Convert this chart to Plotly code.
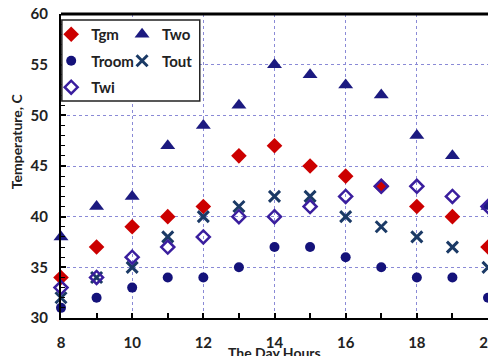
import plotly.graph_objects as go

hours = [8, 9, 10, 11, 12, 13, 14, 15, 16, 17, 18, 19, 20]
tgm = [34, 37, 39, 40, 41, 46, 47, 45, 44, 43, 41, 40, 37]
two = [38, 41, 42, 47, 49, 51, 55, 54, 53, 52, 48, 46, 41]
troom = [31, 32, 33, 34, 34, 35, 37, 37, 36, 35, 34, 34, 32]
tout = [32, 34, 35, 38, 40, 41, 42, 42, 40, 39, 38, 37, 35]
twi = [33, 34, 36, 37, 38, 40, 40, 41, 42, 43, 43, 42, 41]

x_ticks = [8, 10, 12, 14, 16, 18, 20]
y_ticks = [30, 35, 40, 45, 50, 55, 60]

FONT = "Lato"
fig = go.Figure()

def add(name, y, symbol, color, size, legend, group, line=None):
    marker = dict(symbol=symbol, color=color, size=size)
    if line:
        marker["line"] = line
    fig.add_trace(go.Scatter(x=hours, y=y, mode="markers", name=name,
                             marker=marker, cliponaxis=False,
                             legend=legend, legendgroup=group))

add("Tgm", tgm, "diamond", "#CC0000", 12, "legend", "a")
add("Two", two, "triangle-up", "#1C1A80", 13, "legend2", "b")
add("Troom", troom, "circle", "#14127A", 10, "legend", "c")
add("Tout", tout, "x-thin", "#1B3A66", 11, "legend2", "d",
    line=dict(color="#1B3A66", width=3))
add("Twi", twi, "diamond-open", "#3A1E9E", 10, "legend", "e",
    line=dict(color="#3A1E9E", width=2.5))

legfont = dict(family=FONT, size=15, color="#222222", weight="bold")
fig.update_layout(
    width=488, height=356,
    margin=dict(l=61, r=0, t=14, b=38),
    paper_bgcolor="white", plot_bgcolor="white",
    font=dict(family=FONT, size=15, color="#222222", weight="bold"),
    legend=dict(x=-0.023, y=0.987, xanchor="left", yanchor="top",
                bgcolor="rgba(0,0,0,0)", font=legfont, tracegroupgap=4,
                itemwidth=30),
    legend2=dict(x=0.143, y=0.987, xanchor="left", yanchor="top",
                 bgcolor="rgba(0,0,0,0)", font=legfont, tracegroupgap=4,
                 itemwidth=30),
    xaxis=dict(range=[8, 20], tickvals=x_ticks, ticktext=[str(v) for v in x_ticks],
               automargin=False,
               showgrid=True, gridcolor="#8A8AD6", griddash="dot", gridwidth=1,
               showline=True, linecolor="black", linewidth=2,
               ticks="inside", ticklen=5, tickwidth=1.5, tickcolor="black",
               minor=dict(dtick=1, ticks="inside", ticklen=5, tickwidth=1.5,
                          tickcolor="black", showgrid=False),
               ticklabelstandoff=10, ticklabeloverflow="allow",
               zeroline=False),
    yaxis=dict(range=[30, 60], tickvals=y_ticks, automargin=False,
               showgrid=True, gridcolor="#8A8AD6", griddash="dot", gridwidth=1,
               showline=True, linecolor="black", linewidth=2,
               ticks="inside", ticklen=5, tickwidth=1.5, tickcolor="black",
               minor=dict(dtick=1, ticks="inside", ticklen=4, tickwidth=1.2,
                          tickcolor="black", showgrid=False),
               ticklabelstandoff=8, zeroline=False),
)

# top border
fig.add_shape(type="line", xref="paper", yref="paper", x0=0, x1=1, y0=1, y1=1,
              line=dict(color="black", width=3), layer="above")
# legend box
fig.add_shape(type="rect", xref="paper", yref="paper", x0=0.002, x1=0.325,
              y0=0.714, y1=0.98, line=dict(color="#222222", width=1.5),
              fillcolor="white", layer="above")

fig.add_annotation(text="Temperature, C", xref="paper", yref="paper",
                   x=-0.105, y=0.582, textangle=-90, showarrow=False,
                   xanchor="center", yanchor="middle",
                   font=dict(family=FONT, size=14, color="#222222", weight="bold"))
fig.add_annotation(text="The Day Hours", xref="paper", yref="paper",
                   x=0.5, y=-0.112, showarrow=False,
                   xanchor="center", yanchor="middle",
                   font=dict(family=FONT, size=14, color="#222222", weight="bold"))

fig.write_html("out.html")
